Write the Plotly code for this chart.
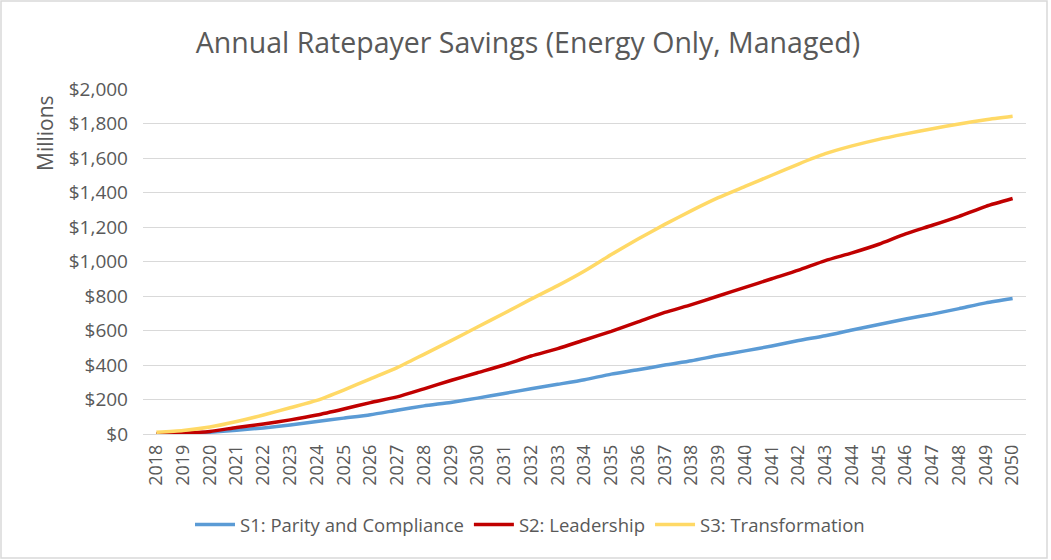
import plotly.graph_objects as go

years = [str(y) for y in range(2018, 2051)]
s1 = [0, 3, 10, 22, 35, 52, 72, 92, 112, 138, 163, 183, 208, 235, 262, 288, 315, 347,
      372, 400, 425, 455, 482, 510, 542, 570, 603, 635, 667, 695, 727, 760, 785]
s2 = [0, 5, 15, 38, 58, 82, 110, 145, 182, 215, 262, 310, 355, 400, 452, 495, 545, 595,
      650, 705, 750, 800, 850, 900, 950, 1005, 1050, 1100, 1160, 1210, 1262, 1320, 1365]
s3 = [10, 20, 40, 72, 110, 152, 195, 255, 320, 385, 462, 540, 620, 700, 782, 860, 945, 1040,
      1130, 1215, 1295, 1370, 1435, 1500, 1565, 1625, 1670, 1708, 1740, 1770, 1797, 1822, 1842]
names = ["S1: Parity and Compliance", "S2: Leadership", "S3: Transformation"]
colors = ["#5B9BD5", "#C00000", "#FFD966"]
yticks = list(range(0, 2001, 200))
yticklabels = ["$" + format(v, ",") for v in yticks]

W, H = 1051, 560
ml, mr, mt, mb = 143, 25, 89, 126
pw, ph = W - ml - mr, H - mt - mb
FONT = "Open Sans"
GREY = "#595959"

fig = go.Figure()
for vals, nm, c in zip([s1, s2, s3], names, colors):
    fig.add_trace(go.Scatter(x=years, y=vals, name=nm, mode="lines",
                             line=dict(color=c, width=3.5, shape="spline", smoothing=0.6)))

fig.update_layout(
    width=W, height=H,
    margin=dict(l=ml, r=mr, t=mt, b=mb),
    paper_bgcolor="white", plot_bgcolor="white",
    font=dict(family=FONT, color=GREY),
    title=dict(text="Annual Ratepayer Savings (Energy Only, Managed)",
               x=528 / W, xanchor="center", y=1 - 43 / H, yanchor="middle",
               font=dict(size=28.5, color=GREY, family=FONT)),
    xaxis=dict(type="category", tickangle=-90, tickfont=dict(size=18, color=GREY),
               showgrid=False, showline=False, ticks="", range=[-0.5, 32.5],
               ticklabelstandoff=6),
    yaxis=dict(range=[0, 2000], tickvals=yticks, ticktext=yticklabels,
               tickfont=dict(size=19, color=GREY), showgrid=True, gridcolor="#D9D9D9",
               gridwidth=1, zeroline=True, zerolinecolor="#D9D9D9", zerolinewidth=1,
               showline=False, ticks="", ticklabelstandoff=14),
    legend=dict(orientation="h", xref="container", x=530 / W, xanchor="center",
                yref="container", y=1 - 525 / H, yanchor="middle",
                font=dict(size=18.5, color=GREY), itemwidth=40,
                entrywidth=0, tracegroupgap=0),
    showlegend=True,
)

fig.add_annotation(text="Millions", xref="paper", yref="paper",
                   x=-(ml - 45) / pw, y=1 - (133 - mt) / ph, textangle=-90,
                   showarrow=False, xanchor="center", yanchor="middle",
                   font=dict(size=21, color=GREY, family=FONT))

fig.add_shape(type="rect", xref="paper", yref="paper",
              x0=-(ml - 1) / pw, x1=1 + (mr - 4) / pw,
              y0=-(mb - 2) / ph, y1=1 + (mt - 1) / ph,
              line=dict(color="#D9D9D9", width=1.5), layer="below")

fig.write_html("out.html", config={"displayModeBar": False},
               post_script="document.body.style.margin='0';document.body.style.overflow='hidden';")
